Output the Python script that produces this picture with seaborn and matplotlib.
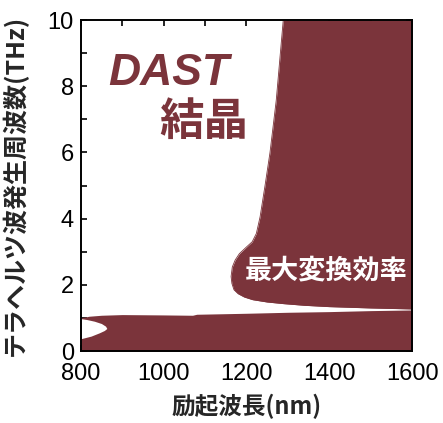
import numpy as np
import matplotlib
matplotlib.use("Agg")
import matplotlib.pyplot as plt
import seaborn as sns

# Phase-matching map of THz generation in DAST crystal
# Lower band: upper edge of the efficient region (wavelength nm -> THz)
band_wl = [800, 820, 850, 900, 1000, 1070, 1080, 1200, 1300, 1400, 1500, 1600]
band_top = [1.00, 1.05, 1.08, 1.10, 1.09, 1.08, 1.11, 1.14, 1.17, 1.19, 1.22, 1.24]

# Small uncovered pocket at short wavelengths (THz -> right edge in nm)
pocket_thz = [0.37, 0.45, 0.55, 0.62, 0.68, 0.75, 0.83, 0.90, 0.95, 0.98]
pocket_wl = [800, 825, 845, 857, 863, 860, 850, 833, 815, 800]

# Upper region: left boundary (THz -> wavelength nm), filled to 1600 nm
upper_thz = [1.27, 1.30, 1.34, 1.38, 1.43, 1.48, 1.55, 1.63, 1.73, 1.85, 2.04,
             2.25, 2.54, 2.75, 2.94, 3.14, 3.30, 3.55, 4.05, 5.0, 6.0, 7.57,
             9.0, 10.0]
upper_wl = [1600, 1500, 1400, 1340, 1290, 1250, 1215, 1195, 1180, 1170, 1165,
            1163, 1166, 1173, 1183, 1200, 1214, 1224, 1233, 1245, 1257, 1272,
            1282, 1289]

x_ticks = [800, 1000, 1200, 1400, 1600]
y_ticks = [0, 2, 4, 6, 8, 10]

MAROON = "#7B343B"

sns.set_theme(style="ticks")
plt.rcParams["font.family"] = ["Liberation Sans", "Noto Sans CJK JP"]
plt.rcParams["axes.linewidth"] = 1.4
plt.rcParams["axes.edgecolor"] = "black"
plt.rcParams["xtick.color"] = "black"
plt.rcParams["ytick.color"] = "black"

fig = plt.figure(figsize=(4.43, 4.23), dpi=100)
ax = fig.add_axes([0.1822, 0.1702, 0.7480, 0.7825])

# efficient region, low-frequency band
ax.fill_between(band_wl, 0, band_top, color=MAROON, lw=0)
ax.fill_betweenx(pocket_thz, 800, pocket_wl, color="white", lw=0)
# efficient region, high-frequency side
ax.fill_betweenx(upper_thz, upper_wl, 1600, color=MAROON, lw=0)
sns.lineplot(x=upper_wl, y=upper_thz, sort=False, color=MAROON, lw=0.6, ax=ax)

ax.set_xlim(800, 1600)
ax.set_ylim(0, 10)
ax.set_xticks(x_ticks)
ax.set_yticks(y_ticks)
ax.set_xticks([900, 1100, 1300, 1500], minor=True)
ax.set_yticks([1, 3, 5, 7, 9], minor=True)
ax.tick_params(which="both", direction="in", top=True, right=True,
               length=4.5, width=1.2, labelsize=17)
ax.tick_params(axis="x", which="major", pad=8.5)
ax.tick_params(axis="y", which="major", pad=5)

cjk = ["Noto Sans CJK JP", "DejaVu Sans"]
ax.set_xlabel("励起波長(nm)", family=cjk, fontsize=17, fontweight="bold")
ax.set_ylabel("テラヘルツ波発生周波数(THz)", family=cjk, fontsize=18,
              fontweight="bold")
ax.xaxis.set_label_coords(0.5, -0.13)
ax.yaxis.set_label_coords(-0.16, 0.5)

ax.text(866, 8.03, "DAST", family=["Liberation Sans"], fontsize=32,
        fontweight="bold", fontstyle="italic", color=MAROON,
        ha="left", va="baseline")
ax.text(1097, 6.92, "結晶", family=cjk, fontsize=32, fontweight="bold",
        color=MAROON, ha="center", va="center")
ax.text(1393, 2.42, "最大変換効率", family=cjk, fontsize=19.5,
        fontweight="bold", color="white", ha="center", va="center")

fig.savefig("out.png", dpi=100)
